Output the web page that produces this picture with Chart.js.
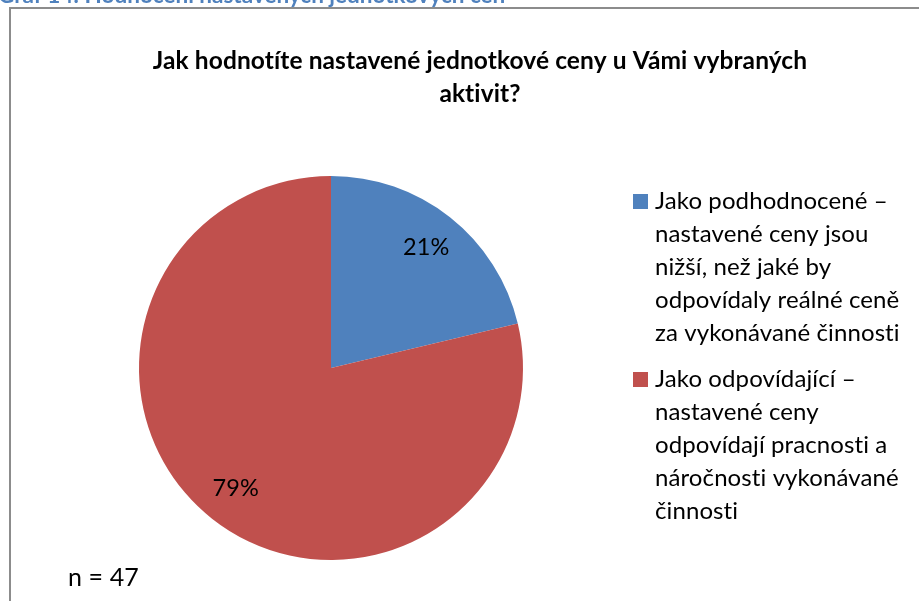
<!DOCTYPE html>
<html>
<head>
<meta charset="utf-8">
<script src="https://cdn.jsdelivr.net/npm/chart.js@4/dist/chart.umd.min.js"></script>
<style>
  html, body { margin: 0; padding: 0; background: #fff; }
  #wrap { width: 919px; height: 601px; position: relative; }
</style>
</head>
<body>
<div id="wrap"><canvas id="graf" width="919" height="601"></canvas></div>
<script>
const kategorie = [
  ['Jako podhodnocené –', 'nastavené ceny jsou', 'nižší, než jaké by', 'odpovídaly reálné ceně', 'za vykonávané činnosti'],
  ['Jako odpovídající –', 'nastavené ceny', 'odpovídají pracnosti a', 'náročnosti vykonávané', 'činnosti']
];
const pocty = [10, 37];
const popisky = ['21%', '79%'];
const barvy = ['#4F81BD', '#C0504D'];
const titulek = ['Jak hodnotíte nastavené jednotkové ceny u Vámi vybraných', 'aktivit?'];
const popisGrafu = 'Graf 14: Hodnocení nastavených jednotkových cen';
const poznamka = 'n = 47';

const pismo = 'Lato, "Open Sans", sans-serif';

const vyzdoba = {
  id: 'vyzdoba',
  beforeDraw(chart) {
    const ctx = chart.ctx;
    ctx.save();
    // popis nad grafem (oriznuty)
    ctx.fillStyle = '#4F81BD';
    ctx.font = 'bold 22.5px ' + pismo;
    ctx.textBaseline = 'alphabetic';
    ctx.textAlign = 'left';
    ctx.fillText(popisGrafu, -2, 3);
    // ramecek
    ctx.strokeStyle = '#8c8c8c';
    ctx.lineWidth = 2;
    ctx.beginPath();
    ctx.moveTo(10, 620);
    ctx.lineTo(10, 8);
    ctx.lineTo(940, 8);
    ctx.stroke();
    ctx.restore();
  },
  afterDraw(chart) {
    const ctx = chart.ctx;
    ctx.save();
    ctx.fillStyle = '#000';
    ctx.textBaseline = 'middle';
    // bez ligatur "ti"
    ctx.letterSpacing = '0.1px';

    // titulek
    ctx.font = 'bold 24.5px ' + pismo;
    ctx.textAlign = 'center';
    titulek.forEach((t, i) => ctx.fillText(t, 480, 61 + i * 33));

    // procenta v kolaci
    ctx.font = '23.5px ' + pismo;
    const meta = chart.getDatasetMeta(0);
    meta.data.forEach((arc, i) => {
      const p = arc.getProps(['x', 'y', 'startAngle', 'endAngle', 'outerRadius']);
      const a = (p.startAngle + p.endAngle) / 2;
      const r = p.outerRadius * 0.8;
      ctx.fillText(popisky[i], p.x + Math.cos(a) * r, p.y + Math.sin(a) * r);
    });

    // legenda
    ctx.textAlign = 'left';
    ctx.font = '24px ' + pismo;
    const zacatky = [201, 379];
    kategorie.forEach((radky, i) => {
      ctx.fillStyle = barvy[i];
      ctx.fillRect(633, zacatky[i] - 7, 15, 15);
      ctx.fillStyle = '#000';
      radky.forEach((t, j) => ctx.fillText(t, 655, zacatky[i] + j * 33));
    });

    // n
    ctx.font = '25px ' + pismo;
    ctx.fillText(poznamka, 68, 578);
    ctx.restore();
  }
};

new Chart(document.getElementById('graf'), {
  type: 'pie',
  data: {
    labels: kategorie.map(k => k.join(' ')),
    datasets: [{
      data: pocty,
      backgroundColor: barvy,
      borderWidth: 0
    }]
  },
  options: {
    responsive: false,
    animation: false,
    layout: { padding: { left: 139, top: 176, right: 396, bottom: 41 } },
    plugins: {
      legend: { display: false },
      title: { display: false },
      tooltip: { enabled: false }
    }
  },
  plugins: [vyzdoba]
});
</script>
</body>
</html>
